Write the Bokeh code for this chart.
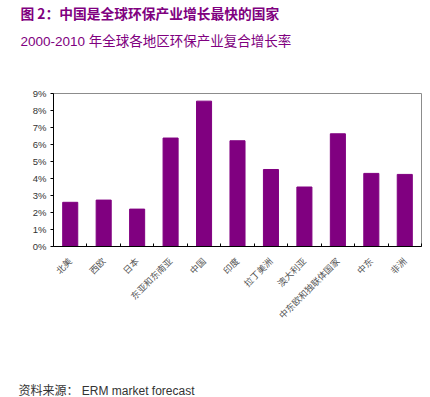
from math import pi
from bokeh.plotting import figure
from bokeh.models import FixedTicker, Range1d, Title
from bokeh.embed import file_html
from bokeh.resources import INLINE

regions = ["北美", "西欧", "日本", "东亚和东南亚", "中国", "印度", "拉丁美洲",
           "澳大利亚", "中东欧和独联体国家", "中东", "非洲"]
growth = [2.6, 2.73, 2.2, 6.38, 8.55, 6.22, 4.53, 3.5, 6.63, 4.3, 4.24]
y_ticks = [0, 1, 2, 3, 4, 5, 6, 7, 8, 9]
y_labels = [f"{t}%" for t in y_ticks]

title = "图 2：中国是全球环保产业增长最快的国家"
subtitle = "2000-2010 年全球各地区环保产业复合增长率"
source = "资料来源： ERM market forecast"

PURPLE = "#800080"
W, H = 422, 397
LEFT, RIGHT, TOP, BOTTOM = 53, 1, 92, 151

p = figure(width=W, height=H, output_backend="svg", toolbar_location=None,
           x_range=Range1d(0, len(regions)), y_range=Range1d(0, 9),
           min_border_left=LEFT, min_border_right=RIGHT,
           min_border_top=TOP, min_border_bottom=BOTTOM)
p.outline_line_color = "#8c8c8c"
p.xgrid.visible = False
p.ygrid.visible = False

centers = [i + 0.5 for i in range(len(regions))]
p.vbar(x=centers, top=growth, width=0.45, color=PURPLE)

ya = p.yaxis[0]
ya.ticker = FixedTicker(ticks=y_ticks, minor_ticks=[])
ya.major_label_overrides = {t: l for t, l in zip(y_ticks, y_labels)}
ya.major_tick_in = 0
ya.major_tick_out = 3
ya.axis_line_color = "black"
ya.major_tick_line_color = "black"
ya.major_label_text_font = "Liberation Sans"
ya.major_label_text_font_size = "9.5px"
ya.major_label_text_color = "#333333"
ya.major_label_standoff = 4

xa = p.xaxis[0]
xa.ticker = FixedTicker(ticks=centers, minor_ticks=[float(i) for i in range(len(regions) + 1)])
xa.major_label_overrides = {c: r for c, r in zip(centers, regions)}
xa.major_tick_line_color = None
xa.minor_tick_in = 3
xa.minor_tick_out = 0
xa.minor_tick_line_color = "black"
xa.axis_line_color = "black"
xa.major_label_orientation = pi / 4
xa.major_label_text_font = "Noto Sans CJK SC"
xa.major_label_text_font_size = "9px"
xa.major_label_text_color = "#555555"
xa.major_label_standoff = 7

HEAD_FONT = "Noto Sans CJK SC"
# spacer between frame and subtitle
p.add_layout(Title(text=" ", text_font=HEAD_FONT, text_font_size="13.5px",
                   align="left", standoff=14), "above")
p.add_layout(Title(text=subtitle, text_font="Liberation Sans, 'Noto Sans CJK SC'",
                   text_font_size="13.5px", text_font_style="normal",
                   text_color=PURPLE, align="left", offset=-33, standoff=18), "above")
p.add_layout(Title(text=title, text_font=HEAD_FONT,
                   text_font_size="13.75px", text_font_style="bold",
                   text_color=PURPLE, align="left", offset=-33, standoff=0), "above")

SRC_FONT = "Liberation Sans, 'Noto Sans CJK SC'"
p.add_layout(Title(text=" ", text_font=SRC_FONT, text_font_size="12px",
                   align="left", standoff=37), "below")
p.add_layout(Title(text=source, text_font=SRC_FONT,
                   text_font_size="12px", text_font_style="normal",
                   text_color="#333333", align="left", offset=-35, standoff=0), "below")

open("out.html", "w").write(file_html(p, INLINE))
